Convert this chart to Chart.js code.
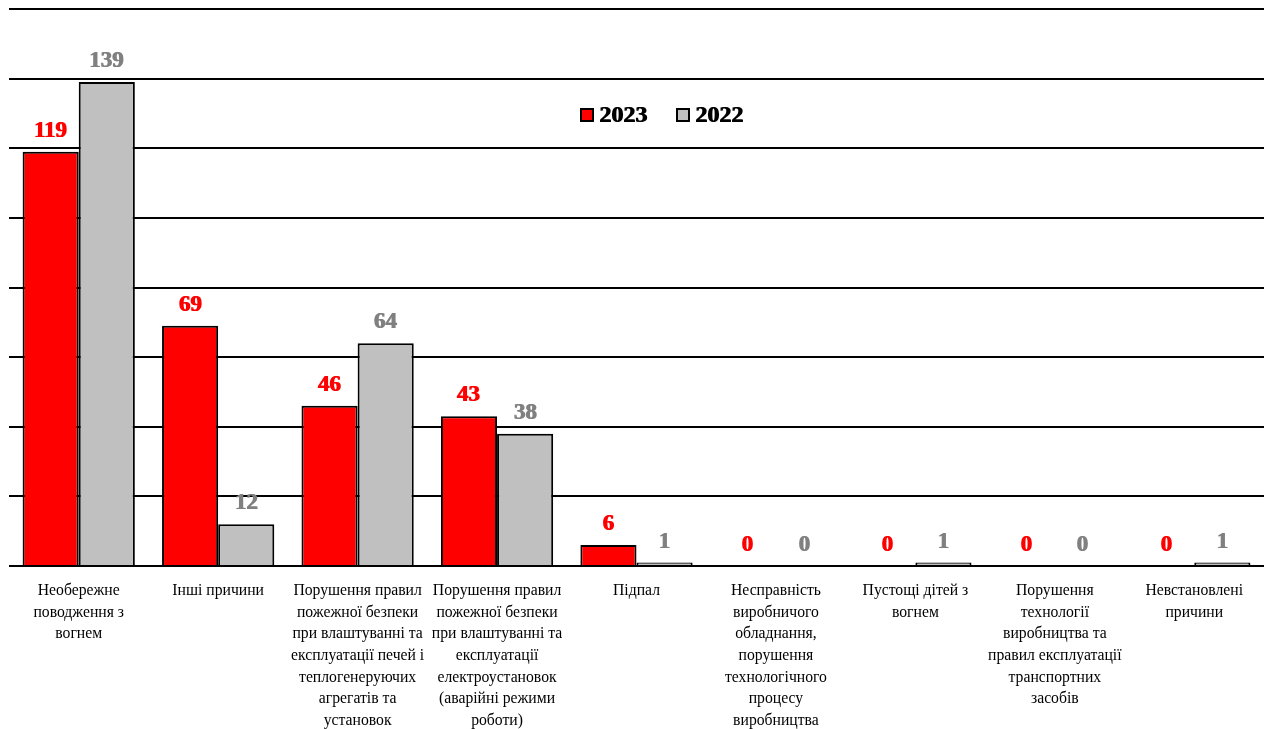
<!DOCTYPE html>
<html><head><meta charset="utf-8">
<script src="https://cdn.jsdelivr.net/npm/chart.js@4.4.1/dist/chart.umd.min.js"></script>
<style>html,body{margin:0;padding:0;background:#fff}#wrap{width:1264px;height:729px}</style>
</head><body><div id="wrap"><canvas id="c"></canvas></div>
<script>
const categories = [
  ["Необережне","поводження з","вогнем"],
  ["Інші причини"],
  ["Порушення правил","пожежної безпеки","при влаштуванні та","експлуатації печей і","теплогенеруючих","агрегатів та","установок"],
  ["Порушення правил","пожежної безпеки","при влаштуванні та","експлуатації","електроустановок","(аварійні режими","роботи)"],
  ["Підпал"],
  ["Несправність","виробничого","обладнання,","порушення","технологічного","процесу","виробництва"],
  ["Пустощі дітей з","вогнем"],
  ["Порушення","технології","виробництва та","правил експлуатації","транспортних","засобів"],
  ["Невстановлені","причини"]
];
const values2023 = [119, 69, 46, 43, 6, 0, 0, 0, 0];
const values2022 = [139, 12, 64, 38, 1, 0, 1, 0, 1];
const seriesNames = ["2023", "2022"];
const seriesColors = ["#FF0000", "#C0C0C0"];
const labelColors = ["#FF0000", "#808080"];

const serif = "'Liberation Serif', 'Times New Roman', serif";

function boldText(ctx, text, x, y, color) {
  ctx.fillStyle = color;
  const rx = Math.round(x), ry = Math.round(y);
  ctx.fillText(text, rx, ry);
  ctx.fillText(text, rx + 1, ry);
}

const dataLabels = {
  id: 'dataLabels',
  afterDatasetsDraw(chart) {
    const ctx = chart.ctx;
    ctx.save();
    ctx.font = "bold 23px " + serif;
    ctx.textAlign = 'center';
    ctx.textBaseline = 'middle';
    chart.data.datasets.forEach((ds, i) => {
      chart.getDatasetMeta(i).data.forEach((bar, j) => {
        boldText(ctx, String(ds.data[j]), bar.x - 0.5, bar.y - 21, labelColors[i]);
      });
    });
    ctx.restore();
  }
};

const innerLegend = {
  id: 'innerLegend',
  afterDraw(chart) {
    const ctx = chart.ctx, a = chart.chartArea;
    ctx.save();
    ctx.font = "bold 24px " + serif;
    ctx.textBaseline = 'middle';
    ctx.textAlign = 'left';
    const box = 12, gap = 6, spacing = 29;
    const widths = seriesNames.map(n => ctx.measureText(n).width + 1);
    let total = 0;
    widths.forEach((w, i) => { total += box + gap + w + (i ? spacing : 0); });
    let x = Math.round(a.left + a.width * 0.521 - total / 2);
    const y = Math.round(a.top + (a.bottom - a.top) * 0.19);
    seriesNames.forEach((n, i) => {
      ctx.fillStyle = seriesColors[i];
      ctx.fillRect(x, y - box / 2, box, box);
      ctx.lineWidth = 2;
      ctx.strokeStyle = '#000';
      ctx.strokeRect(x, y - box / 2, box, box);
      boldText(ctx, n, x + box + gap, y + 1, '#000');
      x = Math.round(x + box + gap + widths[i] + spacing);
    });
    ctx.restore();
  }
};

new Chart(document.getElementById('c'), {
  type: 'bar',
  data: {
    labels: categories,
    datasets: [
      { label: seriesNames[0], data: values2023, backgroundColor: seriesColors[0], borderColor: '#000', borderWidth: 2, categoryPercentage: 0.805, barPercentage: 1.0 },
      { label: seriesNames[1], data: values2022, backgroundColor: seriesColors[1], borderColor: '#000', borderWidth: 2, categoryPercentage: 0.805, barPercentage: 1.0 }
    ]
  },
  options: {
    responsive: true,
    maintainAspectRatio: false,
    animation: false,
    layout: { padding: { left: 9, right: 0, top: 9, bottom: 0 } },
    plugins: { legend: { display: false }, tooltip: { enabled: false } },
    scales: {
      x: {
        grid: { display: false, drawTicks: false },
        border: { display: false },
        ticks: { color: '#000', font: { family: serif, size: 15.7, lineHeight: 1.38 }, padding: 14, maxRotation: 0, autoSkip: false },
        afterFit(scale) { scale.height = 163; }
      },
      y: {
        min: 0, max: 160,
        ticks: { display: false, stepSize: 20 },
        grid: { color: '#000', lineWidth: 2, drawTicks: false },
        border: { display: false }
      }
    }
  },
  plugins: [dataLabels, innerLegend]
});
</script></body></html>
